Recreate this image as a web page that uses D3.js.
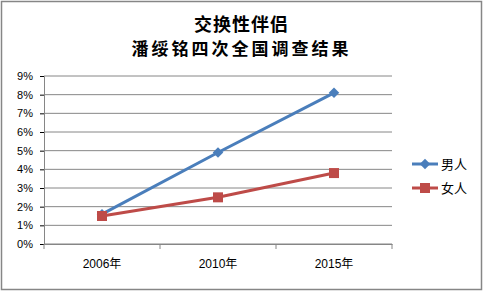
<!DOCTYPE html>
<html>
<head>
<meta charset="utf-8">
<script src="https://cdn.jsdelivr.net/npm/d3@7"></script>
<style>
  body { margin: 0; background: #fff; }
  svg { display: block; }
</style>
</head>
<body>
<div id="chart"></div>
<script>
// data
const years = ["2006年", "2010年", "2015年"]
const men = [1.6, 4.9, 8.1]
const women = [1.5, 2.5, 3.8]
const yTicks = [0, 1, 2, 3, 4, 5, 6, 7, 8, 9]
const seriesNames = ["男人", "女人"]

const W = 483, H = 291
const margin = {top: 76, right: 91, bottom: 47, left: 44}
const width = W - margin.left - margin.right,
      height = H - margin.top - margin.bottom

const svg = d3.select("#chart").append("svg")
  .attr("width", W)
  .attr("height", H)

// outer frame
svg.append("rect")
  .attr("x", 1.5).attr("y", 1.5)
  .attr("width", W - 3).attr("height", H - 3)
  .attr("fill", "#fff")
  .attr("stroke", "#868686")
  .attr("stroke-width", 1.5)

// titles
const titleFont = "'Noto Sans CJK SC', sans-serif"
svg.append("text")
  .attr("x", W / 2).attr("y", 31)
  .attr("text-anchor", "middle")
  .style("font-family", titleFont)
  .style("font-weight", "bold")
  .style("font-size", "18px")
  .style("letter-spacing", "1px")
  .text("交换性伴侣")
svg.append("text")
  .attr("x", W / 2).attr("y", 55)
  .attr("text-anchor", "middle")
  .style("font-family", titleFont)
  .style("font-weight", "bold")
  .style("font-size", "17px")
  .style("letter-spacing", "3px")
  .text("潘绥铭四次全国调查结果")

const g = svg.append("g")
  .attr("transform", "translate(" + margin.left + "," + margin.top + ")")

const x = d3.scaleBand().domain(years).range([0, width])
const y = d3.scaleLinear().domain([0, 9]).range([height, 0])

// grid lines
g.append("g")
  .selectAll("line")
  .data(yTicks)
  .enter()
  .append("line")
    .attr("x1", 0).attr("x2", width)
    .attr("y1", d => y(d)).attr("y2", d => y(d))
    .attr("stroke", "#868686")
    .attr("stroke-width", 1)

// Y axis
const yAxis = g.append("g")
  .call(d3.axisLeft(y).tickValues(yTicks).tickSize(4).tickPadding(7).tickFormat(d => d + "%"))
yAxis.selectAll("text")
  .style("font-family", "'Liberation Sans', Arial, sans-serif")
  .style("font-size", "11px")
  .attr("fill", "#000")

// X axis with ticks between categories
const xAxis = g.append("g")
  .attr("transform", "translate(0," + height + ")")
  .call(d3.axisBottom(x).tickSize(0).tickPadding(15))
xAxis.selectAll("text")
  .style("font-family", "'Liberation Sans', 'Noto Sans CJK SC', sans-serif")
  .style("font-size", "12px")
  .attr("fill", "#000")
xAxis.append("g")
  .selectAll("line")
  .data(years.map(d => x(d) + x.bandwidth()).concat([0]))
  .enter()
  .append("line")
    .attr("x1", d => d).attr("x2", d => d)
    .attr("y1", 0).attr("y2", 5)
    .attr("stroke", "#868686")
g.selectAll(".domain").attr("stroke", "#868686")

const cx = (d, i) => x(years[i]) + x.bandwidth() / 2
const line = d3.line().x(cx).y(d => y(d))

const blue = "#4a7ebb", red = "#be4b48"

g.append("path")
  .datum(men)
  .attr("fill", "none")
  .attr("stroke", blue)
  .attr("stroke-width", 3)
  .attr("d", line)

g.append("path")
  .datum(women)
  .attr("fill", "none")
  .attr("stroke", red)
  .attr("stroke-width", 3)
  .attr("d", line)

// markers
const diamond = d3.symbol().type(d3.symbolDiamond2).size(70)
g.selectAll(".menDot")
  .data(men)
  .enter()
  .append("path")
    .attr("transform", (d, i) => "translate(" + cx(d, i) + "," + y(d) + ")")
    .attr("d", diamond)
    .attr("fill", blue)

g.selectAll(".womenDot")
  .data(women)
  .enter()
  .append("rect")
    .attr("x", (d, i) => cx(d, i) - 5)
    .attr("y", d => y(d) - 5)
    .attr("width", 10).attr("height", 10)
    .attr("fill", red)

// legend
const legend = svg.append("g").attr("transform", "translate(412,164)")
const colors = [blue, red]
seriesNames.forEach((name, i) => {
  const row = legend.append("g").attr("transform", "translate(0," + i * 24 + ")")
  row.append("line")
    .attr("x1", 0).attr("x2", 26)
    .attr("stroke", colors[i]).attr("stroke-width", 3)
  if (i == 0) {
    row.append("path")
      .attr("transform", "translate(13,0)")
      .attr("d", diamond)
      .attr("fill", colors[i])
  } else {
    row.append("rect")
      .attr("x", 8).attr("y", -5)
      .attr("width", 10).attr("height", 10)
      .attr("fill", colors[i])
  }
  row.append("text")
    .attr("x", 29).attr("y", 0)
    .attr("dy", "0.35em")
    .style("font-family", "'Noto Sans CJK SC', sans-serif")
    .style("font-size", "13px")
    .text(name)
})
</script>
</body>
</html>
